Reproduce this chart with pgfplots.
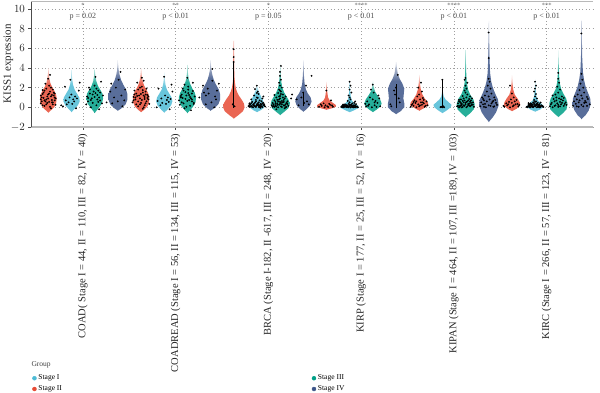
\documentclass[border=0pt]{standalone}
\usepackage{pgfplots}
\usepackage{pgfplotstable}
\pgfplotsset{compat=1.18}
\usepackage{fontspec}
\setmainfont{Liberation Serif}
\definecolor{nI}{HTML}{4DBBD5}
\definecolor{nII}{HTML}{E64B35}
\definecolor{nIII}{HTML}{00A087}
\definecolor{nIV}{HTML}{3C5488}
\colorlet{vr}{nII!85!white}
\colorlet{vb}{nI!85!white}
\colorlet{vg}{nIII!85!white}
\colorlet{vd}{nIV!85!white}
\colorlet{vrl}{vr!22}
\colorlet{vbl}{vb!22}
\colorlet{vgl}{vg!22}
\colorlet{vdl}{vd!22}
\pgfdeclareverticalshading{fr}{100bp}{color(0bp)=(vr); color(25bp)=(vr); color(57bp)=(vr); color(75bp)=(vrl); color(100bp)=(vrl)}
\pgfdeclareverticalshading{fb}{100bp}{color(0bp)=(vb); color(25bp)=(vb); color(57bp)=(vb); color(75bp)=(vbl); color(100bp)=(vbl)}
\pgfdeclareverticalshading{fg}{100bp}{color(0bp)=(vg); color(25bp)=(vg); color(57bp)=(vg); color(75bp)=(vgl); color(100bp)=(vgl)}
\pgfdeclareverticalshading{fd}{100bp}{color(0bp)=(vd); color(25bp)=(vd); color(57bp)=(vd); color(75bp)=(vdl); color(100bp)=(vdl)}

% violin profiles: y, half-width (x units)
\pgfplotstableread[row sep=\\]{y w\\ -0.55 0\\ -0.3 0.03\\ 0 0.065\\ 0.4 0.085\\ 0.9 0.092\\ 1.3 0.085\\ 1.7 0.065\\ 2.1 0.04\\ 2.5 0.022\\ 3.0 0.012\\ 3.5 0.006\\ 4.0 0\\}\tAr
\pgfplotstableread[row sep=\\]{y w\\ -0.5 0\\ -0.2 0.03\\ 0.2 0.07\\ 0.6 0.09\\ 1.0 0.085\\ 1.4 0.06\\ 1.8 0.035\\ 2.3 0.018\\ 2.8 0.01\\ 3.3 0.005\\ 3.8 0\\}\tAb
\pgfplotstableread[row sep=\\]{y w\\ -0.6 0\\ -0.3 0.025\\ 0 0.05\\ 0.4 0.08\\ 0.9 0.092\\ 1.4 0.085\\ 1.8 0.06\\ 2.2 0.035\\ 2.7 0.018\\ 3.3 0.008\\ 4.0 0\\}\tAg
\pgfplotstableread[row sep=\\]{y w\\ -0.35 0\\ -0.1 0.04\\ 0.3 0.085\\ 0.8 0.105\\ 1.3 0.105\\ 1.8 0.09\\ 2.3 0.06\\ 2.8 0.035\\ 3.3 0.02\\ 3.8 0.01\\ 4.3 0.005\\ 4.8 0\\}\tAd
\pgfplotstableread[row sep=\\]{y w\\ -0.5 0\\ -0.25 0.035\\ 0.1 0.07\\ 0.5 0.088\\ 1.0 0.092\\ 1.4 0.08\\ 1.8 0.058\\ 2.2 0.035\\ 2.7 0.018\\ 3.3 0.008\\ 4.0 0\\}\tBr
\pgfplotstableread[row sep=\\]{y w\\ -0.55 0\\ -0.25 0.035\\ 0.2 0.075\\ 0.6 0.09\\ 1.0 0.08\\ 1.4 0.055\\ 1.8 0.03\\ 2.3 0.015\\ 2.9 0.007\\ 3.6 0\\}\tBb
\pgfplotstableread[row sep=\\]{y w\\ -0.6 0\\ -0.3 0.03\\ 0.1 0.065\\ 0.5 0.088\\ 1.0 0.095\\ 1.5 0.08\\ 1.9 0.055\\ 2.4 0.03\\ 2.9 0.015\\ 3.5 0.007\\ 4.3 0\\}\tBg
\pgfplotstableread[row sep=\\]{y w\\ -0.35 0\\ -0.1 0.04\\ 0.3 0.085\\ 0.8 0.105\\ 1.3 0.105\\ 1.8 0.09\\ 2.3 0.06\\ 2.8 0.035\\ 3.3 0.02\\ 3.8 0.01\\ 4.3 0.005\\ 4.8 0\\}\tBd
\pgfplotstableread[row sep=\\]{y w\\ -1.15 0\\ -0.8 0.05\\ -0.4 0.1\\ 0 0.118\\ 0.4 0.11\\ 0.8 0.085\\ 1.2 0.055\\ 1.6 0.035\\ 2.0 0.022\\ 2.5 0.014\\ 3.0 0.009\\ 4.0 0.005\\ 5.0 0.004\\ 6.0 0.003\\ 6.8 0\\}\tCr
\pgfplotstableread[row sep=\\]{y w\\ -0.5 0\\ -0.3 0.04\\ 0 0.085\\ 0.3 0.08\\ 0.7 0.065\\ 1.0 0.05\\ 1.4 0.03\\ 1.8 0.015\\ 2.3 0\\}\tCb
\pgfplotstableread[row sep=\\]{y w\\ -0.8 0\\ -0.5 0.04\\ -0.1 0.09\\ 0.3 0.105\\ 0.7 0.095\\ 1.1 0.07\\ 1.5 0.045\\ 2.0 0.025\\ 2.5 0.015\\ 3.2 0.008\\ 4.4 0\\}\tCg
\pgfplotstableread[row sep=\\]{y w\\ -0.45 0\\ -0.2 0.035\\ 0.2 0.075\\ 0.6 0.09\\ 1.0 0.08\\ 1.4 0.05\\ 1.8 0.03\\ 2.4 0.015\\ 3.2 0.008\\ 4.0 0.004\\ 4.8 0\\}\tCd
\pgfplotstableread[row sep=\\]{y w\\ -0.25 0\\ -0.1 0.06\\ 0.05 0.1\\ 0.25 0.1\\ 0.45 0.07\\ 0.7 0.035\\ 1.0 0.018\\ 1.5 0.01\\ 2.0 0.006\\ 2.6 0\\}\tDr
\pgfplotstableread[row sep=\\]{y w\\ -0.5 0\\ -0.3 0.05\\ -0.05 0.1\\ 0.15 0.095\\ 0.4 0.05\\ 0.7 0.025\\ 1.1 0.013\\ 1.7 0.008\\ 2.2 0.005\\ 2.7 0\\}\tDb
\pgfplotstableread[row sep=\\]{y w\\ -0.5 0\\ -0.25 0.04\\ 0.1 0.085\\ 0.4 0.095\\ 0.8 0.08\\ 1.2 0.05\\ 1.6 0.025\\ 2.1 0.01\\ 2.7 0\\}\tDg
\pgfplotstableread[row sep=\\]{y w\\ -0.7 0\\ -0.4 0.05\\ 0 0.09\\ 0.4 0.09\\ 0.9 0.08\\ 1.4 0.085\\ 1.9 0.09\\ 2.4 0.07\\ 2.9 0.04\\ 3.4 0.02\\ 4.0 0.01\\ 4.6 0\\}\tDd
\pgfplotstableread[row sep=\\]{y w\\ -0.35 0\\ -0.1 0.05\\ 0.2 0.1\\ 0.5 0.095\\ 0.9 0.06\\ 1.3 0.035\\ 1.8 0.018\\ 2.5 0.008\\ 3.3 0\\}\tEr
\pgfplotstableread[row sep=\\]{y w\\ -0.6 0\\ -0.3 0.05\\ 0 0.09\\ 0.25 0.1\\ 0.5 0.07\\ 0.8 0.035\\ 1.1 0.015\\ 1.6 0.006\\ 2.2 0.004\\ 2.8 0\\}\tEb
\pgfplotstableread[row sep=\\]{y w\\ -1.0 0\\ -0.6 0.05\\ -0.2 0.09\\ 0.3 0.1\\ 0.8 0.085\\ 1.3 0.05\\ 1.8 0.028\\ 2.4 0.015\\ 3.2 0.009\\ 4.5 0.005\\ 5.8 0\\}\tEg
\pgfplotstableread[row sep=\\]{y w\\ -1.5 0\\ -1.0 0.045\\ -0.5 0.08\\ 0.2 0.108\\ 0.8 0.1\\ 1.4 0.07\\ 2.0 0.045\\ 2.6 0.028\\ 3.5 0.015\\ 5.0 0.009\\ 7.0 0.005\\ 8.8 0\\}\tEd
\pgfplotstableread[row sep=\\]{y w\\ -0.4 0\\ -0.15 0.05\\ 0.2 0.09\\ 0.5 0.085\\ 0.9 0.06\\ 1.3 0.03\\ 1.8 0.015\\ 2.5 0.007\\ 3.3 0\\}\tFr
\pgfplotstableread[row sep=\\]{y w\\ -0.45 0\\ -0.2 0.06\\ 0.1 0.095\\ 0.35 0.07\\ 0.7 0.03\\ 1.1 0.015\\ 1.6 0.008\\ 2.2 0.005\\ 2.9 0\\}\tFb
\pgfplotstableread[row sep=\\]{y w\\ -1.0 0\\ -0.6 0.05\\ -0.2 0.09\\ 0.4 0.1\\ 0.9 0.085\\ 1.4 0.055\\ 1.9 0.03\\ 2.5 0.016\\ 3.3 0.009\\ 4.5 0.005\\ 5.8 0\\}\tFg
\pgfplotstableread[row sep=\\]{y w\\ -1.2 0\\ -0.8 0.045\\ -0.3 0.08\\ 0.3 0.1\\ 0.9 0.095\\ 1.5 0.07\\ 2.1 0.045\\ 2.8 0.028\\ 3.6 0.016\\ 5.0 0.009\\ 7.0 0.005\\ 8.8 0\\}\tFd

% jittered points: dx, y
\pgfplotstableread[row sep=\\]{dx y\\ -0.06 0.2\\ 0.04 0.5\\ -0.02 0.8\\ 0.07 1.0\\ -0.08 1.2\\ 0.01 1.4\\ 0.05 0.3\\ -0.04 1.7\\ 0.03 2.0\\ -0.07 0.6\\ 0.08 0.9\\ -0.01 1.1\\ 0.02 0.05\\ -0.05 0.95\\ 0.06 1.5\\ -0.03 2.4\\ 0.00 2.9\\ 0.04 1.25\\ -0.08 0.4\\ 0.07 0.7\\ -0.02 1.9\\ 0.03 -0.1\\ -0.06 1.35\\ 0.05 1.8\\ 0.01 0.55\\ -0.04 0.15\\ 0.02 3.3\\ 0.08 0.25\\ -0.07 1.0\\ -0.04 0.7\\ 0.00 0.9\\ 0.03 1.1\\ 0.06 1.2\\ -0.05 1.5\\ 0.02 1.6\\ -0.02 0.3\\ 0.05 0.5\\ -0.08 0.8\\ 0.07 1.4\\ 0.00 1.3\\ -0.03 0.6\\ 0.04 0.75\\ -0.06 1.75\\ 0.01 2.2\\ -0.01 0.45\\}\pAr
\pgfplotstableread[row sep=\\]{dx y\\ -0.05 0.3\\ 0.03 0.6\\ -0.09 0.1\\ 0.06 0.9\\ 0.00 1.3\\ -0.03 0.5\\ 0.08 1.7\\ -0.07 2.1\\ 0.02 0.8\\ 0.05 -0.1\\ -0.01 2.8\\ 0.04 1.1\\ -0.06 0.7\\ 0.09 2.5\\ -0.11 0.2\\ 0.01 0.35\\ -0.02 1.0\\}\pAb
\pgfplotstableread[row sep=\\]{dx y\\ -0.07 0.6\\ 0.05 1.0\\ -0.02 1.3\\ 0.08 0.4\\ -0.05 1.8\\ 0.02 0.2\\ 0.06 1.5\\ -0.08 1.1\\ 0.00 2.2\\ 0.03 0.8\\ -0.04 0.0\\ 0.07 2.6\\ -0.01 1.6\\ 0.04 0.55\\ -0.06 2.0\\ 0.09 1.2\\ -0.03 0.9\\ 0.01 3.1\\ 0.05 -0.2\\ -0.09 0.3\\ 0.02 1.9\\ -0.05 1.4\\ -0.04 0.75\\ 0.00 1.05\\ 0.03 1.25\\ 0.06 0.7\\ -0.02 0.45\\ 0.01 1.45\\ -0.07 0.95\\ 0.04 1.7\\}\pAg
\pgfplotstableread[row sep=\\]{dx y\\ -0.06 0.4\\ 0.04 1.2\\ -0.02 2.0\\ 0.07 0.7\\ -0.08 1.6\\ 0.01 2.8\\ 0.05 0.1\\ -0.04 1.0\\ 0.03 3.6\\ -0.07 2.4\\ 0.08 1.8\\ 0.00 0.6\\ -0.12 0.5\\}\pAd
\pgfplotstableread[row sep=\\]{dx y\\ -0.05 0.3\\ 0.06 0.6\\ -0.01 0.9\\ 0.08 1.1\\ -0.07 1.3\\ 0.02 1.5\\ 0.04 0.2\\ -0.03 1.8\\ 0.01 2.1\\ -0.08 0.7\\ 0.07 0.95\\ -0.02 1.2\\ 0.03 0.0\\ -0.06 1.0\\ 0.05 1.6\\ -0.04 2.5\\ 0.01 3.0\\ 0.05 1.3\\ -0.09 0.5\\ 0.08 0.8\\ -0.01 2.0\\ 0.02 -0.15\\ -0.05 1.4\\ 0.06 1.9\\ 0.00 0.45\\ -0.03 0.1\\ 0.03 2.7\\ 0.09 0.35\\ -0.07 1.7\\ 0.04 1.05\\ -0.06 0.8\\ -0.03 0.6\\ 0.01 0.75\\ 0.04 0.85\\ 0.07 1.25\\ -0.04 1.15\\ 0.02 1.75\\ -0.01 0.3\\ 0.05 0.4\\ -0.08 1.05\\ 0.00 1.35\\ 0.03 1.2\\}\pBr
\pgfplotstableread[row sep=\\]{dx y\\ -0.04 0.2\\ 0.05 0.55\\ -0.08 0.0\\ 0.07 0.85\\ 0.01 1.2\\ -0.02 0.45\\ 0.09 1.6\\ -0.06 1.9\\ 0.03 0.75\\ 0.06 -0.2\\ 0.00 3.1\\ 0.04 1.0\\ -0.07 0.65\\ 0.08 2.3\\ -0.03 0.9\\ 0.02 0.35\\}\pBb
\pgfplotstableread[row sep=\\]{dx y\\ -0.06 0.5\\ 0.04 0.9\\ -0.01 1.2\\ 0.07 0.35\\ -0.04 1.7\\ 0.03 0.15\\ 0.05 1.4\\ -0.07 1.0\\ 0.01 2.1\\ 0.02 0.75\\ -0.03 -0.1\\ 0.06 2.5\\ -0.02 1.55\\ 0.05 0.6\\ -0.05 1.9\\ 0.08 1.1\\ -0.02 0.85\\ 0.00 3.0\\ 0.04 -0.3\\ -0.08 0.25\\ 0.01 1.8\\ -0.06 1.3\\ 0.07 0.45\\ -0.03 2.3\\ 0.02 1.25\\ -0.09 0.7\\ 0.06 1.65\\ -0.01 0.05\\ -0.05 0.95\\ 0.03 1.05\\ 0.00 0.65\\ -0.04 0.4\\ 0.05 0.8\\ 0.01 1.45\\ -0.07 1.15\\}\pBg
\pgfplotstableread[row sep=\\]{dx y\\ -0.05 0.3\\ 0.05 1.1\\ -0.03 1.9\\ 0.06 0.8\\ -0.07 1.5\\ 0.02 2.7\\ 0.04 0.0\\ -0.05 1.2\\ 0.02 3.9\\ -0.08 2.2\\ 0.07 1.7\\ 0.01 0.5\\ -0.02 1.4\\ 0.09 2.4\\ -0.12 1.0\\}\pBd
\pgfplotstableread[row sep=\\]{dx y\\ 0.0 5.9\\ 0.0 4.6\\ 0.0 5.1\\ 0.01 0.1\\ -0.01 0.3\\}\pCr
\pgfplotstableread[row sep=\\]{dx y\\ -0.08 0.05\\ -0.06 0.15\\ -0.04 0.0\\ -0.02 0.1\\ 0.00 0.2\\ 0.02 0.05\\ 0.04 0.12\\ 0.06 0.02\\ 0.08 0.18\\ -0.07 0.3\\ -0.03 0.35\\ 0.01 0.4\\ 0.05 0.28\\ 0.07 0.45\\ -0.05 0.55\\ -0.01 0.6\\ 0.03 0.7\\ -0.06 0.8\\ 0.06 0.9\\ 0.00 1.0\\ -0.03 1.2\\ 0.02 1.35\\ 0.01 1.6\\ -0.02 1.85\\ 0.00 2.2\\ 0.04 -0.05\\ -0.04 0.22\\ 0.09 0.08\\ -0.09 0.12\\ 0.03 0.0\\ -0.01 0.03\\ 0.05 0.6\\ -0.08 0.4\\ 0.07 1.1\\ 0.02 0.25\\ -0.07 0.08\\ -0.05 0.03\\ -0.03 0.16\\ -0.01 0.12\\ 0.01 0.22\\ 0.03 0.18\\ 0.05 0.1\\ 0.07 0.22\\ -0.08 0.25\\ -0.04 0.3\\ 0.00 0.3\\ 0.04 0.35\\ 0.08 0.3\\ -0.06 0.42\\ -0.02 0.48\\ 0.02 0.5\\ 0.06 0.4\\ -0.01 0.75\\ 0.01 0.95\\ 0.00 1.45\\}\pCb
\pgfplotstableread[row sep=\\]{dx y\\ -0.08 0.05\\ -0.05 0.15\\ -0.02 0.0\\ 0.01 0.1\\ 0.04 0.2\\ 0.07 0.05\\ -0.07 0.3\\ -0.03 0.4\\ 0.00 0.35\\ 0.03 0.5\\ 0.06 0.3\\ 0.08 0.6\\ -0.06 0.7\\ -0.01 0.8\\ 0.02 0.65\\ 0.05 0.9\\ -0.04 1.0\\ 0.00 1.15\\ 0.03 1.3\\ -0.02 1.45\\ 0.01 1.6\\ -0.01 1.8\\ 0.02 2.0\\ 0.00 2.2\\ -0.01 2.5\\ 0.01 2.8\\ 0.00 3.2\\ 0.0 3.6\\ 0.01 4.2\\ -0.09 0.2\\ 0.09 0.15\\ -0.05 0.55\\ 0.04 0.75\\ -0.03 0.25\\ 0.06 1.1\\ -0.06 1.25\\ 0.02 0.02\\ -0.04 -0.2\\ 0.05 -0.1\\ 0.00 0.55\\ -0.07 0.12\\ -0.04 0.08\\ -0.01 0.25\\ 0.02 0.3\\ 0.05 0.18\\ 0.08 0.35\\ -0.08 0.45\\ -0.05 0.35\\ -0.02 0.6\\ 0.01 0.45\\ 0.04 0.55\\ 0.07 0.45\\ -0.03 0.75\\ 0.00 0.9\\ 0.03 1.0\\ -0.01 1.1\\ 0.01 1.35\\ 0.0 1.7\\ -0.06 0.05\\ 0.06 0.0\\}\pCg
\pgfplotstableread[row sep=\\]{dx y\\ -0.05 0.2\\ 0.04 0.6\\ -0.02 1.0\\ 0.06 0.3\\ 0.00 1.5\\ -0.07 0.8\\ 0.03 2.2\\ 0.01 0.45\\ -0.12 1.3\\ -0.13 0.9\\ 0.09 3.2\\}\pCd
\pgfplotstableread[row sep=\\]{dx y\\ -0.08 0.05\\ -0.05 0.15\\ -0.02 0.0\\ 0.01 0.1\\ 0.04 0.25\\ 0.07 0.05\\ -0.06 0.3\\ 0.03 0.35\\ -0.03 0.4\\ 0.06 0.2\\ 0.00 1.7\\ 0.05 0.7\\ -0.01 0.2\\ 0.02 0.02\\}\pDr
\pgfplotstableread[row sep=\\]{dx y\\ -0.09 0.05\\ -0.07 0.0\\ -0.05 0.1\\ -0.03 0.02\\ -0.01 0.08\\ 0.01 0.0\\ 0.03 0.12\\ 0.05 0.03\\ 0.07 0.07\\ 0.09 0.0\\ -0.08 0.15\\ -0.06 0.2\\ -0.04 0.05\\ -0.02 0.18\\ 0.00 0.25\\ 0.02 0.06\\ 0.04 0.2\\ 0.06 0.15\\ 0.08 0.1\\ -0.05 0.3\\ -0.01 0.35\\ 0.03 0.4\\ 0.00 0.5\\ -0.02 0.65\\ 0.01 0.8\\ 0.00 1.0\\ -0.01 1.2\\ 0.02 1.5\\ 0.00 1.8\\ 0.01 2.2\\ 0.0 2.6\\ 0.05 0.45\\ -0.07 0.28\\ 0.07 0.32\\ -0.03 0.12\\ 0.04 0.0\\ -0.06 0.02\\ 0.02 0.3\\ 0.06 0.6\\ -0.08 0.03\\ -0.06 0.1\\ -0.04 0.15\\ -0.02 0.05\\ 0.00 0.12\\ 0.02 0.15\\ 0.04 0.08\\ 0.06 0.0\\ 0.08 0.05\\ -0.07 0.08\\ -0.03 0.22\\ 0.01 0.22\\ 0.05 0.2\\ -0.01 0.0\\ 0.03 0.03\\}\pDb
\pgfplotstableread[row sep=\\]{dx y\\ -0.07 0.1\\ -0.04 0.3\\ -0.01 0.0\\ 0.02 0.2\\ 0.05 0.45\\ 0.08 0.1\\ -0.06 0.6\\ 0.00 0.8\\ 0.03 0.65\\ -0.03 1.0\\ 0.06 1.2\\ 0.01 1.5\\ -0.02 1.8\\ 0.0 2.3\\ 0.04 0.05\\ -0.08 0.35\\ 0.07 0.9\\ -0.05 0.15\\ 0.02 0.5\\}\pDg
\pgfplotstableread[row sep=\\]{dx y\\ -0.05 0.1\\ 0.04 0.5\\ -0.01 1.3\\ 0.00 2.0\\ 0.03 0.9\\ -0.06 0.3\\ 0.02 3.3\\ -0.02 1.7\\}\pDd
\pgfplotstableread[row sep=\\]{dx y\\ -0.09 0.05\\ -0.06 0.15\\ -0.03 0.0\\ 0.00 0.1\\ 0.03 0.25\\ 0.06 0.05\\ 0.09 0.2\\ -0.07 0.35\\ -0.04 0.45\\ -0.01 0.3\\ 0.02 0.5\\ 0.05 0.4\\ 0.08 0.6\\ -0.05 0.7\\ 0.01 0.8\\ 0.04 0.95\\ -0.02 1.1\\ 0.00 1.3\\ 0.03 1.6\\ -0.01 2.0\\ 0.02 2.5\\ -0.08 0.25\\ 0.07 0.15\\ -0.03 0.6\\ 0.05 0.75\\ -0.06 0.55\\ 0.01 0.2\\ 0.04 0.5\\}\pEr
\pgfplotstableread[row sep=\\]{dx y\\ 0.0 0.0\\ 0.01 0.1\\ -0.01 0.05\\ 0.0 2.8\\ 0.02 0.0\\ -0.02 0.02\\}\pEb
\pgfplotstableread[row sep=\\]{dx y\\ -0.09 0.1\\ -0.07 0.0\\ -0.05 0.2\\ -0.03 0.05\\ -0.01 0.15\\ 0.01 0.0\\ 0.03 0.25\\ 0.05 0.1\\ 0.07 0.3\\ 0.09 0.05\\ -0.08 0.4\\ -0.06 0.55\\ -0.04 0.35\\ -0.02 0.5\\ 0.00 0.45\\ 0.02 0.6\\ 0.04 0.4\\ 0.06 0.7\\ 0.08 0.5\\ -0.05 0.8\\ -0.02 0.9\\ 0.01 1.0\\ 0.04 0.85\\ -0.03 1.15\\ 0.02 1.3\\ 0.00 1.5\\ -0.01 1.7\\ 0.01 1.9\\ 0.0 2.2\\ 0.02 2.5\\ -0.01 2.8\\ 0.0 3.0\\ 0.06 0.2\\ -0.06 0.15\\ 0.03 0.7\\ -0.07 0.75\\ 0.05 1.1\\ 0.07 0.9\\ -0.04 0.0\\ -0.08 0.15\\ -0.06 0.05\\ -0.04 0.25\\ -0.02 0.2\\ 0.00 0.3\\ 0.02 0.1\\ 0.04 0.2\\ 0.06 0.45\\ 0.08 0.25\\ -0.07 0.6\\ -0.03 0.65\\ 0.01 0.55\\ 0.03 0.35\\ 0.05 0.6\\ -0.05 0.45\\ -0.01 0.7\\}\pEg
\pgfplotstableread[row sep=\\]{dx y\\ -0.09 0.1\\ -0.06 0.3\\ -0.03 0.0\\ 0.00 0.2\\ 0.03 0.4\\ 0.06 0.1\\ 0.09 0.25\\ -0.08 0.5\\ -0.05 0.7\\ -0.02 0.6\\ 0.01 0.8\\ 0.04 0.55\\ 0.07 0.75\\ -0.07 1.0\\ -0.04 1.2\\ 0.00 1.1\\ 0.03 1.4\\ 0.06 1.0\\ -0.02 1.6\\ 0.02 1.9\\ -0.01 2.2\\ 0.01 2.6\\ 0.00 2.9\\ 0.0 5.0\\ 0.0 7.6\\ -0.05 0.05\\ 0.05 0.05\\ 0.08 0.45\\ -0.04 0.35\\ 0.02 0.15\\ 0.05 0.65\\ -0.06 0.85\\}\pEd
\pgfplotstableread[row sep=\\]{dx y\\ -0.08 0.05\\ -0.05 0.2\\ -0.02 0.0\\ 0.01 0.1\\ 0.04 0.3\\ 0.07 0.1\\ -0.06 0.4\\ -0.03 0.55\\ 0.00 0.45\\ 0.03 0.6\\ 0.06 0.35\\ -0.01 0.8\\ 0.02 1.0\\ 0.00 1.4\\ -0.02 2.2\\ 0.05 0.75\\ -0.09 0.15\\ 0.08 0.25\\ -0.04 0.3\\ 0.02 0.2\\}\pFr
\pgfplotstableread[row sep=\\]{dx y\\ -0.08 0.0\\ -0.06 0.05\\ -0.04 0.1\\ -0.02 0.02\\ 0.00 0.08\\ 0.02 0.0\\ 0.04 0.12\\ 0.06 0.04\\ 0.08 0.09\\ -0.07 0.15\\ -0.05 0.22\\ -0.03 0.12\\ -0.01 0.25\\ 0.01 0.18\\ 0.03 0.28\\ 0.05 0.16\\ 0.07 0.2\\ -0.06 0.3\\ -0.04 0.35\\ -0.01 0.4\\ 0.02 0.38\\ 0.05 0.33\\ -0.02 0.5\\ 0.01 0.6\\ -0.01 0.75\\ 0.02 0.9\\ 0.0 1.1\\ 0.01 1.35\\ -0.01 1.6\\ 0.0 1.9\\ 0.01 2.2\\ 0.0 2.6\\ -0.09 0.05\\ 0.09 0.03\\ -0.05 0.0\\ 0.05 0.0\\ -0.03 0.05\\ 0.03 0.06\\ -0.07 0.42\\ 0.06 0.48\\ -0.08 0.07\\ -0.06 0.12\\ -0.04 0.18\\ -0.02 0.1\\ 0.00 0.15\\ 0.02 0.22\\ 0.04 0.05\\ 0.06 0.1\\ 0.08 0.15\\ -0.07 0.25\\ -0.03 0.3\\ 0.01 0.3\\ 0.04 0.25\\ -0.05 0.4\\ 0.03 0.45\\ 0.00 0.55\\}\pFb
\pgfplotstableread[row sep=\\]{dx y\\ -0.09 0.1\\ -0.06 0.0\\ -0.03 0.2\\ 0.00 0.05\\ 0.03 0.3\\ 0.06 0.15\\ 0.09 0.25\\ -0.07 0.45\\ -0.04 0.6\\ -0.01 0.4\\ 0.02 0.55\\ 0.05 0.7\\ 0.08 0.5\\ -0.05 0.85\\ -0.02 1.0\\ 0.01 0.9\\ 0.04 1.1\\ -0.03 1.3\\ 0.00 1.5\\ 0.02 1.8\\ -0.01 2.1\\ 0.01 2.5\\ 0.0 2.9\\ 0.0 3.5\\ -0.08 0.3\\ 0.07 0.35\\ 0.03 0.8\\ -0.06 1.2\\ 0.06 0.95\\ 0.00 0.25\\ -0.04 0.15\\ 0.04 0.45\\ -0.02 0.7\\ 0.02 0.1\\}\pFg
\pgfplotstableread[row sep=\\]{dx y\\ -0.09 0.15\\ -0.06 0.35\\ -0.03 0.05\\ 0.00 0.25\\ 0.03 0.45\\ 0.06 0.15\\ 0.09 0.3\\ -0.08 0.6\\ -0.05 0.8\\ -0.02 0.7\\ 0.01 0.9\\ 0.04 0.65\\ 0.07 0.85\\ -0.07 1.1\\ -0.04 1.3\\ 0.00 1.2\\ 0.03 1.5\\ 0.06 1.05\\ -0.02 1.75\\ 0.02 2.0\\ -0.01 2.4\\ 0.01 2.8\\ 0.0 3.4\\ 0.0 7.5\\ -0.05 0.1\\ 0.05 0.5\\ -0.03 0.5\\ 0.02 0.1\\}\pFd

\newcommand\vio[3]{%
  \addplot[draw=none, shade, shading=f#2] table[x expr={#1+\thisrow{w}}, y=y]{#3};
  \addplot[draw=none, shade, shading=f#2] table[x expr={#1-\thisrow{w}+0.004}, y=y]{#3};
}
\newcommand\jit[2]{%
  \addplot[only marks, mark=*, mark size=0.7pt, black] table[x expr={#1+\thisrow{dx}}, y=y]{#2};
}

\begin{document}
\begin{tikzpicture}
\path[use as bounding box] (0,0) rectangle (600pt,393pt);
\begin{axis}[
  scale only axis, width=561.5pt, height=126pt,
  at={(31.5pt,266pt)}, anchor=south west,
  xmin=0.445, xmax=6.5, ymin=-2, ymax=10.8,
  xtick={1,2,3,4,5,6},
  xticklabels={{COAD( Stage I = 44, II = 110, III = 82, IV = 40)},
               {COADREAD (Stage I = 56, II = 134, III = 115, IV = 53)},
               {BRCA (Stage I-182, II -617, III = 248, IV = 20)},
               {KIRP (Stage I = 177, II = 25, III = 52, IV = 16)},
               {KIPAN (Stage I = 464, II = 107, III =189, IV = 103)},
               {KIRC (Stage I = 266, II = 57, III = 123, IV = 81)}},
  xticklabel style={rotate=90, anchor=east, font=\fontsize{10.5}{11}\selectfont, text=black!85},
  ytick={-2,0,2,4,6,8,10},
  yticklabel style={font=\fontsize{11}{12}\selectfont, text=black!85},
  ylabel={KISS1 expression},
  ylabel style={at={(axis description cs:-0.041,0.5)}, anchor=center, font=\fontsize{11}{12}\selectfont, text=black!85},
  axis x line*=bottom, axis y line*=left,
  x axis line style={-, gray!55, line width=1.4pt},
  y axis line style={-, black!70, line width=0.5pt},
  tick align=outside, major tick length=3pt,
  tick style={black!70, line width=0.5pt},
  grid=major,
  grid style={gray!75, dash pattern=on 0.8pt off 2.6pt, line width=0.6pt},
  clip=false,
  legend columns=2, transpose legend,
  legend style={at={(axis description cs:-0.004,-1.935)}, anchor=north west,
    draw=none, fill=none, font=\fontsize{7.5}{8}\selectfont,
    row sep=0.3pt,
    /tikz/every even column/.append style={column sep=248pt}},
  legend cell align=left,
]
\addlegendimage{only marks, mark=*, mark size=2pt, nI}
\addlegendentry{Stage I}
\addlegendimage{only marks, mark=*, mark size=2pt, nII}
\addlegendentry{Stage II}
\addlegendimage{only marks, mark=*, mark size=2pt, nIII}
\addlegendentry{Stage III}
\addlegendimage{only marks, mark=*, mark size=2pt, nIV}
\addlegendentry{Stage IV}

\draw[gray!55, line width=0.6pt] (rel axis cs:0,1) -- (rel axis cs:1,1);

\vio{0.625}{r}{\tAr} \vio{0.875}{b}{\tAb} \vio{1.125}{g}{\tAg} \vio{1.375}{d}{\tAd}
\vio{1.625}{r}{\tBr} \vio{1.875}{b}{\tBb} \vio{2.125}{g}{\tBg} \vio{2.375}{d}{\tBd}
\vio{2.625}{r}{\tCr} \vio{2.875}{b}{\tCb} \vio{3.125}{g}{\tCg} \vio{3.375}{d}{\tCd}
\vio{3.625}{r}{\tDr} \vio{3.875}{b}{\tDb} \vio{4.125}{g}{\tDg} \vio{4.375}{d}{\tDd}
\vio{4.625}{r}{\tEr} \vio{4.875}{b}{\tEb} \vio{5.125}{g}{\tEg} \vio{5.375}{d}{\tEd}
\vio{5.625}{r}{\tFr} \vio{5.875}{b}{\tFb} \vio{6.125}{g}{\tFg} \vio{6.375}{d}{\tFd}

% narrow inner boxes
\addplot[black, line width=1.6pt] coordinates {(2.625,-0.05) (2.625,3.4)};
\addplot[black, line width=0.7pt] coordinates {(2.625,3.4) (2.625,4.6)};
\addplot[black, line width=0.6pt] coordinates {(3.375,0.1) (3.375,1.6)};
\addplot[black, line width=0.8pt] coordinates {(4.375,-0.1) (4.375,2.4)};
\addplot[black, line width=1.4pt] coordinates {(4.875,-0.05) (4.875,2.8)};

\jit{0.625}{\pAr} \jit{0.875}{\pAb} \jit{1.125}{\pAg} \jit{1.375}{\pAd}
\jit{1.625}{\pBr} \jit{1.875}{\pBb} \jit{2.125}{\pBg} \jit{2.375}{\pBd}
\jit{2.625}{\pCr} \jit{2.875}{\pCb} \jit{3.125}{\pCg} \jit{3.375}{\pCd}
\jit{3.625}{\pDr} \jit{3.875}{\pDb} \jit{4.125}{\pDg} \jit{4.375}{\pDd}
\jit{4.625}{\pEr} \jit{4.875}{\pEb} \jit{5.125}{\pEg} \jit{5.375}{\pEd}
\jit{5.625}{\pFr} \jit{5.875}{\pFb} \jit{6.125}{\pFg} \jit{6.375}{\pFd}

\foreach \k/\s/\p in {1/*/{p = 0.02}, 2/**/{p < 0.01}, 3/*/{p = 0.05}, 4/****/{p < 0.01}, 5/****/{p < 0.01}, 6/***/{p < 0.01}} {
  \edef\tmp{\noexpand\node[font=\noexpand\fontsize{6.5}{6.5}\noexpand\selectfont, text=black!60] at (axis cs:\k,10.35) {\s};}\tmp
  \edef\tmp{\noexpand\node[font=\noexpand\fontsize{8}{9}\noexpand\selectfont, text=black!70] at (axis cs:\k,9.2) {\p};}\tmp
}
\end{axis}
\node[anchor=west, font=\fontsize{7.5}{8}\selectfont, text=black!75] at (28pt,28pt) {Group};
\end{tikzpicture}
\end{document}
